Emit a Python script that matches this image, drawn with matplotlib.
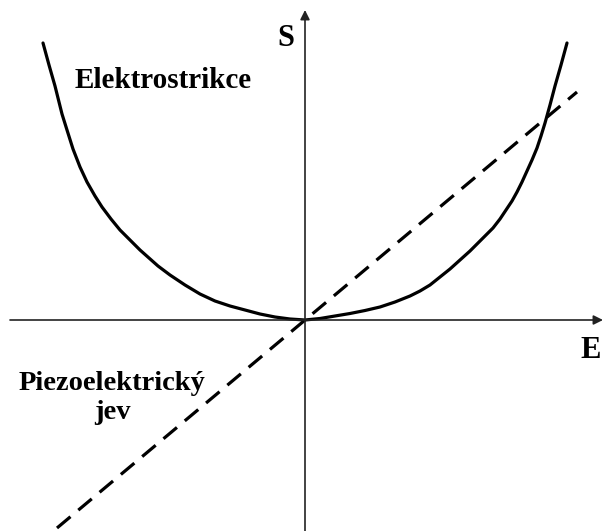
import matplotlib
matplotlib.use("Agg")
import matplotlib.pyplot as plt

# Electrostriction curve (E, S)
curve_E = [-262, -256, -250, -243, -238, -232, -225, -218, -210, -203, -194, -185, -175,
           -165, -156, -147, -135, -120, -105, -90, -75, -60, -45, -30, -15, 0,
           15, 30, 45, 60, 75, 90, 105, 115, 125, 135, 145, 155, 165, 172, 180, 188,
           195, 201, 207, 212, 217, 222, 227, 232, 236, 240, 245, 250, 256, 262]
curve_S = [277, 255, 234, 206, 190, 171, 153, 138, 124, 113, 101, 90, 80,
           70, 62, 54, 45, 35, 26, 19, 14, 10, 6, 3, 1, 0,
           1.5, 4, 6.5, 9.5, 13, 18, 24, 29, 35, 43, 51, 60, 69, 76, 84, 92,
           101, 110, 119, 128, 138, 149, 160, 172, 184, 197, 215, 234, 255, 277]

# Piezoelectric (linear) effect endpoints
line_E = [-248, 272]
line_S = [-208, 228]

# Axis extents
x_axis = [-295, 298]
y_axis = [-211, 310]

fig = plt.figure(figsize=(6.04, 5.31), dpi=100)
ax = fig.add_axes([0, 0, 1, 1])
ax.set_xlim(-305, 299)
ax.set_ylim(-211, 320)
ax.axis("off")

# axes with arrows
ax.annotate("", xy=(x_axis[1], 0), xytext=(x_axis[0], 0),
            arrowprops=dict(arrowstyle="-|>", color="#222222", lw=1.2,
                            mutation_scale=14, shrinkA=0, shrinkB=0))
ax.annotate("", xy=(0, y_axis[1]), xytext=(0, y_axis[0]),
            arrowprops=dict(arrowstyle="-|>", color="#222222", lw=1.2,
                            mutation_scale=14, shrinkA=0, shrinkB=0))

ax.plot(curve_E, curve_S, color="black", lw=2.3, solid_capstyle="round",
        solid_joinstyle="round")
ax.plot(line_E, line_S, color="black", lw=2.3, dashes=(5.5, 3.2))

font = dict(family="Liberation Serif", weight="bold", color="black")
ax.text(-19, 282, "S", fontsize=22, ha="center", va="center", **font)
ax.text(286, -30, "E", fontsize=22, ha="center", va="center", **font)
ax.text(-142, 240, "Elektrostrikce", fontsize=21, ha="center", va="center", **font)
ax.text(-193, -78, "Piezoelektrický\njev", fontsize=20.5, ha="center", va="center",
        linespacing=1.2, **font)

fig.savefig("out.png", dpi=100)
